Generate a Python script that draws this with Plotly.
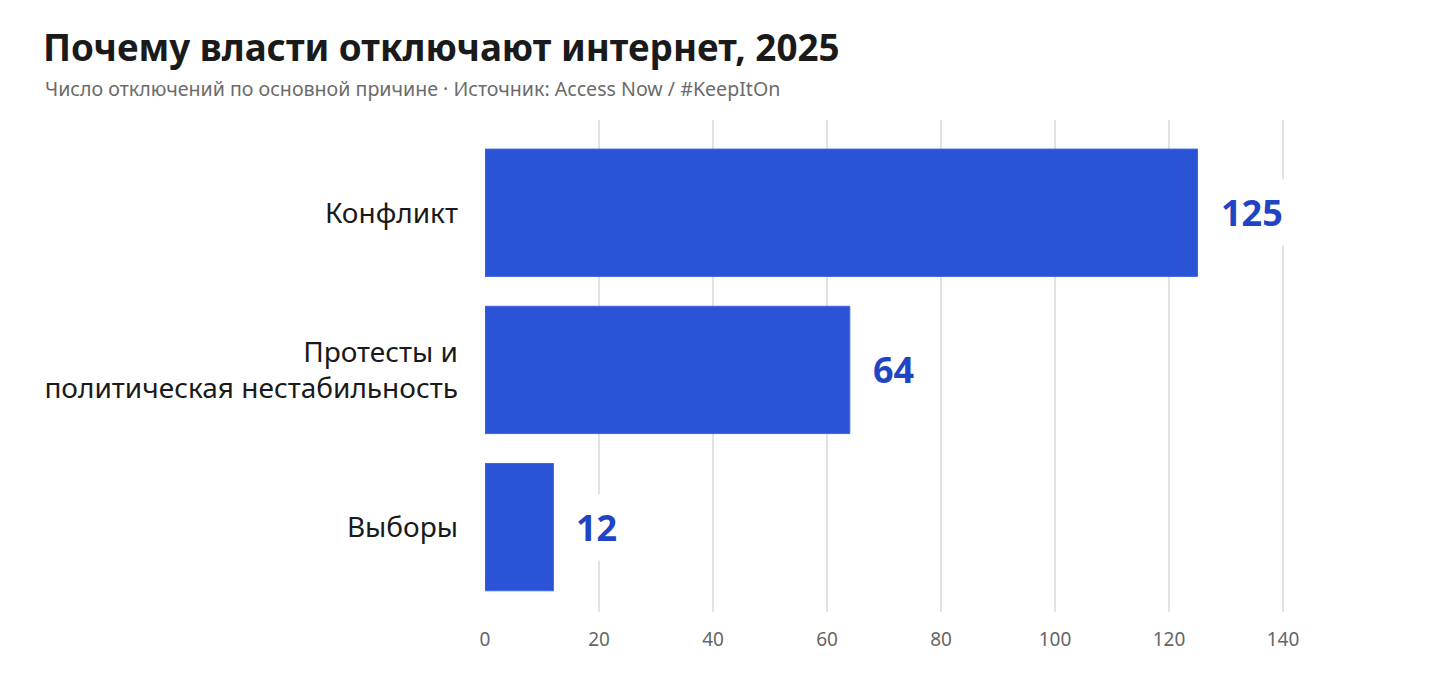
import plotly.graph_objects as go

# Данные
categories = ["Выборы", "Протесты и<br>политическая нестабильность", "Конфликт"]
values = [12, 64, 125]
x_ticks = [0, 20, 40, 60, 80, 100, 120, 140]

BAR_COLOR = "#2a53d6"
LABEL_COLOR = "#1f44c4"
FONT = "Noto Sans, Open Sans, sans-serif"

L, R, T, B = 477, 108, 112, 95
PLOT_W = 1440 - L - R

fig = go.Figure()

fig.add_trace(
    go.Bar(
        x=values,
        y=categories,
        orientation="h",
        marker=dict(color=BAR_COLOR, line=dict(color="#3f66e0", width=1)),
        hoverinfo="x+y",
    )
)

# подписи значений справа от столбцов
for cat, val in zip(categories, values):
    fig.add_annotation(
        x=val,
        y=cat,
        text=f"<b>{val}</b>",
        showarrow=False,
        xanchor="left",
        xshift=14,
        font=dict(size=36, color=LABEL_COLOR, family=FONT),
        bgcolor="white",
        borderpad=8,
    )

# подзаголовок
fig.add_annotation(
    text="Число отключений по основной причине · Источник: Access Now / #KeepItOn",
    xref="paper",
    yref="paper",
    x=(35 - L) / PLOT_W,
    y=1 + (T - 80) / (699 - T - B),
    xanchor="left",
    yanchor="middle",
    showarrow=False,
    font=dict(size=19.6, color="#6b6b6b", family=FONT),
)

fig.update_layout(
    width=1440,
    height=699,
    margin=dict(l=L, r=R, t=T, b=B),
    paper_bgcolor="white",
    plot_bgcolor="white",
    bargap=0.19,
    showlegend=False,
    font=dict(family=FONT),
    title=dict(
        text="<b>Почему власти отключают интернет, 2025</b>",
        x=35 / 1440,
        xanchor="left",
        xref="container",
        yref="container",
        y=1 - 40 / 699,
        yanchor="middle",
        font=dict(size=36.8, color="#1a1a1a", family=FONT),
    ),
)

fig.update_xaxes(
    range=[0, 150],
    tickvals=x_ticks,
    showgrid=True,
    gridcolor="#e2e2e2",
    gridwidth=1.5,
    zeroline=False,
    showline=False,
    tickfont=dict(size=19, color="#666666", family=FONT),
    ticklabelstandoff=14,
)

fig.update_yaxes(
    range=[-0.54, 2.59],
    showgrid=False,
    showline=False,
    tickfont=dict(size=28, color="#1a1a1a", family=FONT),
    ticklabelstandoff=26,
)

fig.write_html("out.html")
